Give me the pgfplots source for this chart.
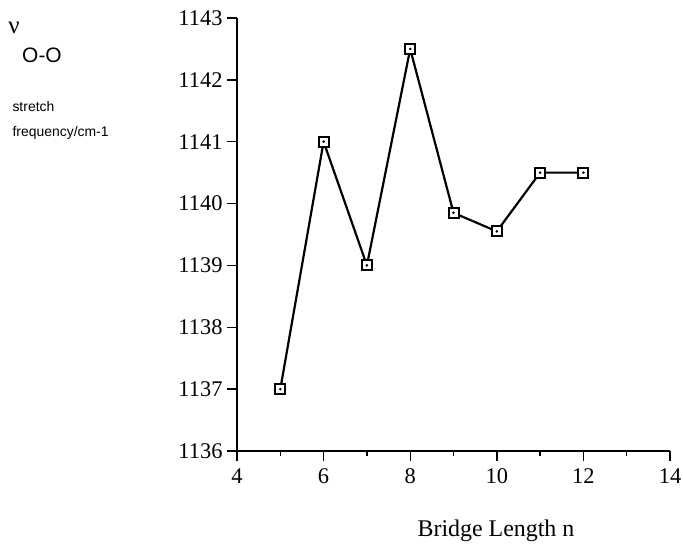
\documentclass[border=0pt]{standalone}
\usepackage{fontspec}
\setmainfont{Liberation Serif}
\newfontfamily\helv{Liberation Sans}
\usepackage{pgfplots}
\usepackage{pgfplotstable}
\pgfplotsset{compat=1.18}

\pgfplotstableread{
n   nu
5   1137.0
6   1141.0
7   1139.0
8   1142.5
9   1139.85
10  1139.55
11  1140.5
12  1140.5
}\freq

\newcommand\tickfont{\fontsize{22.5}{24}\selectfont}

\begin{document}
\begin{tikzpicture}[x=1bp,y=1bp]
\useasboundingbox (-237,-97) rectangle (446,451);
\begin{axis}[
  at={(0,0)}, anchor=origin,
  scale only axis, width=433bp, height=433bp,
  xmin=4, xmax=14, ymin=1136, ymax=1143,
  axis x line*=bottom, axis y line*=left,
  axis line style={line width=1.6pt, -},
  xtick={4,6,...,14}, ytick={1136,...,1143},
  minor x tick num=1, minor y tick num=1,
  tick align=outside,
  major tick length=10bp, minor tick length=5bp,
  every tick/.style={black, line width=1.4pt},
  /pgf/number format/assume math mode=true,
  /pgf/number format/1000 sep={},
  xticklabel={\tickfont\pgfmathprintnumber{\tick}},
  yticklabel={\tickfont\pgfmathprintnumber{\tick}},
  xticklabel style={yshift=-4bp},
  yticklabel style={xshift=-1bp},
  clip=false,
]
\addplot[black, line width=2.2pt, mark=square*, mark size=5bp,
  mark options={fill=white, line width=2pt}] table[x=n, y=nu] {\freq};
\addplot[only marks, black, mark=*, mark size=1.1bp] table[x=n, y=nu] {\freq};
\end{axis}
\node[font=\fontsize{25}{26}\selectfont] at (-223,423) {ν};
\node[font=\helv\fontsize{21}{22}\selectfont] at (-195,396) {O-O};
\node[anchor=west, font=\helv\fontsize{14}{15}\selectfont] at (-228,344) {stretch};
\node[anchor=west, font=\helv\fontsize{14}{15}\selectfont] at (-228,318) {frequency/cm-1};
\node[font=\fontsize{24}{25}\selectfont] at (259,-80) {Bridge Length n};
\end{tikzpicture}
\end{document}
